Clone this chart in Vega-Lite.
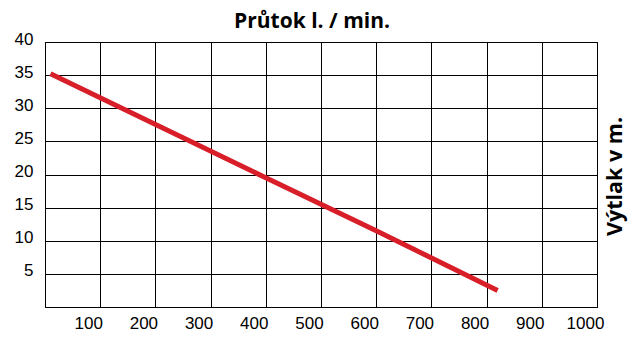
{
  "$schema": "https://vega.github.io/schema/vega-lite/v6.json",
  "autosize": "none",
  "width": 552,
  "height": 265,
  "padding": {"left": 45, "top": 42, "right": 46, "bottom": 31},
  "background": "white",
  "title": {
    "text": "Průtok l. / min.",
    "font": "Open Sans",
    "fontSize": 21,
    "fontWeight": "bold",
    "color": "black",
    "anchor": "middle",
    "offset": -2,
    "dx": -9
  },
  "config": {
    "view": {"stroke": "black", "strokeWidth": 1},
    "axis": {
      "gridColor": "black",
      "gridOpacity": 1,
      "gridWidth": 1,
      "domainColor": "black",
      "domainWidth": 1,
      "ticks": false,
      "labelFont": "Liberation Sans",
      "labelFontSize": 17,
      "labelColor": "black"
    }
  },
  "data": {
    "values": [
      {"q": 10, "h": 35.2},
      {"q": 400, "h": 19.5},
      {"q": 600, "h": 11.5},
      {"q": 820, "h": 2.5}
    ]
  },
  "mark": {"type": "line", "color": "#d81e28", "strokeWidth": 5, "strokeCap": "butt"},
  "encoding": {
    "x": {
      "field": "q",
      "type": "quantitative",
      "scale": {"domain": [0, 1000], "nice": false, "zero": true},
      "axis": {
        "values": [100, 200, 300, 400, 500, 600, 700, 800, 900, 1000],
        "format": "d",
        "title": null,
        "labelOffset": -12,
        "labelPadding": 8,
        "labelFlush": false,
        "labelOverlap": false
      }
    },
    "y": {
      "field": "h",
      "type": "quantitative",
      "scale": {"domain": [0, 40], "nice": false},
      "axis": {
        "values": [5, 10, 15, 20, 25, 30, 35, 40],
        "title": "Výtlak v m.",
        "titleFont": "Open Sans",
        "titleFontSize": 21.5,
        "titleFontWeight": "bold",
        "titleColor": "black",
        "titleAngle": -90,
        "titleX": 570,
        "titleY": 134,
        "titleAlign": "center",
        "titleBaseline": "middle",
        "labelPadding": 12,
        "labelOffset": -3,
        "labelFlush": false,
        "labelOverlap": false
      }
    }
  }
}
